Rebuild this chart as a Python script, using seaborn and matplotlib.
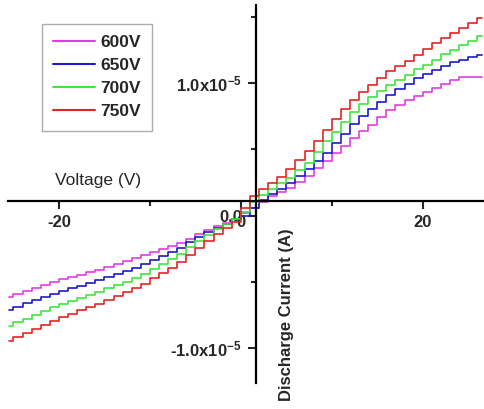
import numpy as np
import pandas as pd
import matplotlib
matplotlib.use("Agg")
import matplotlib.pyplot as plt
import seaborn as sns

# sweep voltage (V) and discharge current (x1e-5 A)
voltage = [-25.5, -24.5, -23.5, -22.5, -21.5, -20.5, -19.5, -18.5, -17.5, -16.5,
           -15.5, -14.5, -13.5, -12.5, -11.5, -10.5, -9.5, -8.5, -7.5, -6.5,
           -5.5, -4.5, -3.5, -2.5, -1.5, -0.5, 0.5, 1.5, 2.5, 3.5,
           4.5, 5.5, 6.5, 7.5, 8.5, 9.5, 10.5, 11.5, 12.5, 13.5,
           14.5, 15.5, 16.5, 17.5, 18.5, 19.5, 20.5, 21.5, 22.5, 23.5,
           24.5, 25.5, 26.5]

i_600 = [-0.611, -0.589, -0.567, -0.545, -0.523, -0.500, -0.480, -0.463, -0.446, -0.428,
         -0.411, -0.388, -0.366, -0.343, -0.320, -0.297, -0.274, -0.251, -0.228, -0.204,
         -0.172, -0.141, -0.110, -0.080, -0.052, -0.024, 0.020, 0.060, 0.100, 0.150,
         0.178, 0.210, 0.255, 0.300, 0.357, 0.413, 0.470, 0.528, 0.585, 0.640,
         0.685, 0.745, 0.800, 0.835, 0.870, 0.902, 0.930, 0.960, 0.990, 1.020,
         1.045, 1.048, 1.048]

i_650 = [-0.711, -0.686, -0.662, -0.638, -0.614, -0.590, -0.567, -0.547, -0.527, -0.507,
         -0.487, -0.464, -0.441, -0.418, -0.395, -0.367, -0.336, -0.305, -0.273, -0.240,
         -0.202, -0.164, -0.125, -0.090, -0.060, -0.025, 0.000, 0.060, 0.120, 0.165,
         0.205, 0.248, 0.300, 0.351, 0.412, 0.475, 0.546, 0.620, 0.690, 0.750,
         0.805, 0.860, 0.912, 0.955, 0.997, 1.040, 1.070, 1.100, 1.133, 1.158,
         1.176, 1.194, 1.212]

i_700 = [-0.831, -0.803, -0.776, -0.748, -0.720, -0.692, -0.666, -0.643, -0.620, -0.598,
         -0.575, -0.549, -0.524, -0.498, -0.472, -0.440, -0.403, -0.365, -0.328, -0.288,
         -0.239, -0.190, -0.142, -0.100, -0.064, -0.028, 0.030, 0.100, 0.155, 0.200,
         0.243, 0.286, 0.343, 0.400, 0.478, 0.560, 0.635, 0.710, 0.780, 0.845,
         0.897, 0.943, 0.988, 1.027, 1.065, 1.103, 1.140, 1.178, 1.217, 1.250,
         1.285, 1.320, 1.353]

i_750 = [-0.949, -0.918, -0.887, -0.856, -0.825, -0.795, -0.766, -0.740, -0.714, -0.689,
         -0.663, -0.634, -0.606, -0.577, -0.548, -0.513, -0.473, -0.433, -0.393, -0.350,
         -0.298, -0.245, -0.193, -0.140, -0.090, -0.045, 0.060, 0.150, 0.200, 0.245,
         0.295, 0.350, 0.420, 0.490, 0.566, 0.646, 0.726, 0.806, 0.875, 0.930,
         0.985, 1.040, 1.090, 1.130, 1.170, 1.215, 1.257, 1.300, 1.340, 1.380,
         1.415, 1.452, 1.490]

series_names = ["600V", "650V", "700V", "750V"]
colors = {"600V": "#e43ae4", "650V": "#1a1acc", "700V": "#3de83d", "750V": "#e42424"}

frames = []
for name, vals in zip(series_names, [i_600, i_650, i_700, i_750]):
    frames.append(pd.DataFrame({"Voltage": voltage,
                                "Current": np.array(vals) * 1e-5,
                                "Series": name}))
df = pd.concat(frames, ignore_index=True)

sns.set_style("ticks")
plt.rcParams["font.family"] = ["Liberation Sans", "DejaVu Sans"]
plt.rcParams["mathtext.fontset"] = "custom"
plt.rcParams["mathtext.bf"] = "Liberation Sans:bold"
plt.rcParams["mathtext.rm"] = "Liberation Sans"
plt.rcParams["mathtext.default"] = "bf"

fig = plt.figure(figsize=(4.85, 4.09), dpi=100)
ax = fig.add_axes([0.0165, 0.0636, 0.979, 0.924])

sns.lineplot(data=df, x="Voltage", y="Current", hue="Series", hue_order=series_names,
             palette=colors, estimator=None, sort=True, drawstyle="steps-mid",
             linewidth=1.2, ax=ax)

ax.set_xlim(-25.6, 26.6)
ax.set_ylim(-1.262e-5, 1.589e-5)

# axes crossing near the origin, like the original
for side in ["top", "right"]:
    ax.spines[side].set_visible(False)
ax.spines["left"].set_position(("data", 1.65))
ax.spines["bottom"].set_position(("data", 1.1e-6))
for side in ["left", "bottom"]:
    ax.spines[side].set_linewidth(1.6)
    ax.spines[side].set_color("black")

ax.set_xticks([-20, 0, 20], labels=["-20", "0", "20"])
ax.set_xticks([-10, 10], minor=True)
ax.set_yticks([-1e-5, 0, 1e-5],
              labels=[r"-1.0x10$^{-5}$", "0.0", r"1.0x10$^{-5}$"])
ax.set_yticks([-0.5e-5, 0.5e-5, 1.5e-5], minor=True)
ax.tick_params(axis="both", which="major", direction="out", length=6, width=1.5,
               labelsize=12, pad=4)
ax.tick_params(axis="both", which="minor", direction="out", length=3.5, width=1.5)
for lab in ax.get_xticklabels() + ax.get_yticklabels():
    lab.set_fontweight("bold")

ax.set_xlabel("")
ax.set_ylabel("")
ax.text(-15.7, 0.268e-5, "Voltage (V)", fontsize=12.5, ha="center", va="center")
ax.text(5.0, -0.743e-5, "Discharge Current (A)", fontsize=12, fontweight="bold",
        rotation=90, ha="center", va="center")

handles, labels = ax.get_legend_handles_labels()
leg = ax.legend(handles, labels, loc="upper left", bbox_to_anchor=(0.072, 0.95),
                borderaxespad=0, frameon=True, fancybox=False, edgecolor="#999999",
                prop={"weight": "bold", "size": 12.5}, handlelength=2.4,
                labelspacing=0.45, borderpad=0.65, handletextpad=0.3)
leg.get_frame().set_linewidth(1.0)
for line in leg.get_lines():
    line.set_linewidth(1.5)

fig.savefig("out.png", dpi=100)
